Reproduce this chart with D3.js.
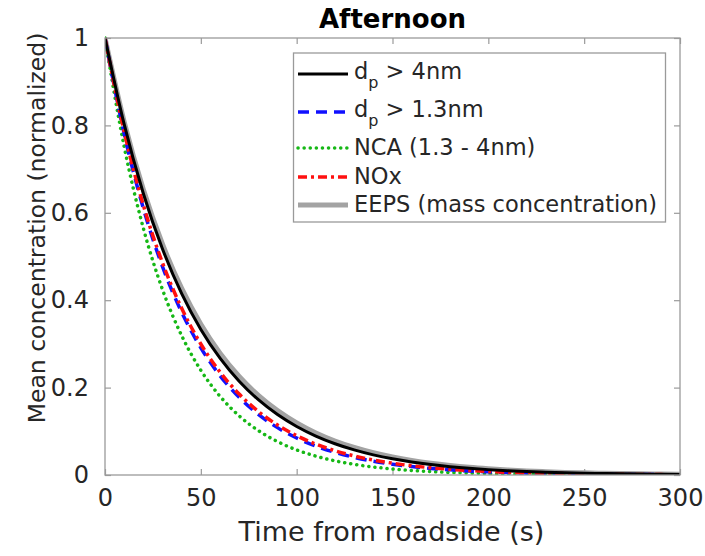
<!DOCTYPE html>
<html>
<head>
<meta charset="utf-8">
<script src="https://cdn.jsdelivr.net/npm/d3@7"></script>
<style>
  html, body { margin: 0; padding: 0; background: #fff; }
  svg { display: block; font-family: "DejaVu Sans", sans-serif; }
</style>
</head>
<body>
<svg id="chart" width="705" height="556"></svg>
<script>
// ---- data ----
const time = [0,10,20,30,40,50,60,70,80,90,100,110,120,130,140,150,160,170,180,190,200,210,220,230,240,250,260,270,280,290,300];
const dp4nm = [1,.8027,.6443,.5172,.4151,.3332,.2675,.2147,.1723,.1383,.1110,.0891,.0715,.0574,.0461,.0370,.0297,.0238,.0191,.0153,.0123,.0099,.0079,.0064,.0051,.0041,.0033,.0026,.0021,.0017,.0014];
const dp13nm = [1,.7812,.6103,.4768,.3724,.2910,.2273,.1776,.1387,.1084,.0847,.0661,.0517,.0404,.0315,.0246,.0192,.0150,.0118,.0092,.0072,.0056,.0044,.0034,.0027,.0021,.0016,.0013,.0010,.0008,.0006];
const nca = [1,.7515,.5647,.4244,.3189,.2397,.1801,.1353,.1017,.0764,.0574,.0432,.0324,.0244,.0183,.0138,.0103,.0078,.0058,.0044,.0033,.0025,.0019,.0014,.0011,.0008,.0006,.0005,.0003,.0003,.0002];
const nox = [1,.7859,.6176,.4854,.3815,.2998,.2356,.1852,.1455,.1144,.0899,.0706,.0555,.0436,.0343,.0270,.0212,.0166,.0131,.0103,.0081,.0063,.0050,.0039,.0031,.0024,.0019,.0015,.0012,.0009,.0007];
const eeps = [1,.8083,.6534,.5281,.4269,.3451,.2789,.2255,.1822,.1473,.1191,.0962,.0778,.0629,.0508,.0411,.0332,.0268,.0217,.0175,.0142,.0115,.0093,.0075,.0060,.0049,.0039,.0032,.0026,.0021,.0017];
const xTicks = [0,50,100,150,200,250,300];
const yTicks = [0,0.2,0.4,0.6,0.8,1];
const yTickLabels = ["0","0.2","0.4","0.6","0.8","1"];
const titleText = "Afternoon";
const xLabel = "Time from roadside (s)";
const yLabel = "Mean concentration (normalized)";

// series: draw order (back to front) and legend order
const series = [
  {key:"eeps", values:eeps, label:"EEPS (mass concentration)", color:"#a3a3a3", width:5, dash:null, order:5},
  {key:"nca", values:nca, label:"NCA (1.3 - 4nm)", color:"#16b816", width:3.5, dash:"0.1,6", cap:"round", order:3},
  {key:"dp13", values:dp13nm, label:"> 1.3nm", sub:true, color:"#1010ff", width:3.5, dash:"11,7", order:2},
  {key:"nox", values:nox, label:"NOx", color:"#ff1010", width:3.5, dash:"9,4,3,4", order:4},
  {key:"dp4", values:dp4nm, label:"> 4nm", sub:true, color:"#000000", width:3, dash:null, order:1}
];

// ---- layout ----
const svg = d3.select("#chart");
const L = 105, R = 680, T = 38, B = 475;
const x = d3.scaleLinear().domain([0,300]).range([L,R]);
const y = d3.scaleLinear().domain([0,1]).range([B,T]);
const axisColor = "#9a9a9a";
const textColor = "#262626";

svg.append("clipPath").attr("id","clip")
  .append("rect").attr("x",L).attr("y",T-3).attr("width",R-L).attr("height",B-T+3);

// axes with inward ticks (box on)
const tickLen = 6;
const gx = svg.append("g").attr("transform",`translate(0,${B})`)
  .call(d3.axisBottom(x).tickValues(xTicks).tickSize(-tickLen).tickPadding(14).tickFormat(d3.format("d")));
const gxt = svg.append("g").attr("transform",`translate(0,${T})`)
  .call(d3.axisTop(x).tickValues(xTicks).tickSize(-tickLen).tickFormat(""));
const gy = svg.append("g").attr("transform",`translate(${L},0)`)
  .call(d3.axisLeft(y).tickValues(yTicks).tickSize(-tickLen).tickPadding(16).tickFormat((d,i)=>yTickLabels[i]));
const gyr = svg.append("g").attr("transform",`translate(${R},0)`)
  .call(d3.axisRight(y).tickValues(yTicks).tickSize(-tickLen).tickFormat(""));
[gx,gxt,gy,gyr].forEach(g=>{
  g.select(".domain").remove();
  g.selectAll(".tick line").attr("stroke",axisColor).attr("stroke-width",1.2);
  g.selectAll(".tick text").attr("fill",textColor).style("font-size","24px").style("font-family","DejaVu Sans");
});

// lines
const line = d3.line().x((d,i)=>x(time[i])).y(d=>y(d)).curve(d3.curveMonotoneX);
const plot = svg.append("g").attr("clip-path","url(#clip)");
series.forEach(s=>{
  plot.append("path").datum(s.values)
    .attr("d",line)
    .attr("fill","none")
    .attr("stroke",s.color)
    .attr("stroke-width",s.width)
    .attr("stroke-dasharray",s.dash)
    .attr("stroke-linecap",s.cap||"butt")
    .attr("stroke-linejoin","round");
});

// box
svg.append("rect").attr("x",L).attr("y",T).attr("width",R-L).attr("height",B-T)
  .attr("fill","none").attr("stroke",axisColor).attr("stroke-width",1.3);

// title & labels
svg.append("text").attr("x",(L+R)/2).attr("y",28).attr("text-anchor","middle")
  .attr("fill","#000").style("font-weight","bold").style("font-size","26px").text(titleText);
svg.append("text").attr("x",(L+R)/2 - 1).attr("y",541).attr("text-anchor","middle")
  .attr("fill",textColor).style("font-size","27px").text(xLabel);
svg.append("text").attr("transform",`translate(45,228) rotate(-90)`).attr("text-anchor","middle")
  .attr("fill",textColor).style("font-size","23.5px").text(yLabel);

// legend
const lg = svg.append("g");
lg.append("rect").attr("x",293.5).attr("y",53).attr("width",372).attr("height",169)
  .attr("fill","#fff").attr("stroke",axisColor).attr("stroke-width",1.3);
const rows = [
  {o:1, ly:74, ty:79}, {o:2, ly:112, ty:117}, {o:3, ly:148, ty:155}, {o:4, ly:177, ty:184}, {o:5, ly:205, ty:212}
];
rows.forEach(r=>{
  const s = series.find(d=>d.order===r.o);
  lg.append("line").attr("x1",298).attr("x2",348).attr("y1",r.ly).attr("y2",r.ly)
    .attr("stroke",s.color).attr("stroke-width",s.width)
    .attr("stroke-dasharray",s.dash).attr("stroke-linecap",s.cap||"butt");
  const t = lg.append("text").attr("x",354).attr("y",r.ty).attr("fill",textColor).style("font-size","22.5px");
  if (s.sub) {
    t.append("tspan").text("d");
    t.append("tspan").attr("dy",9).style("font-size","16px").text("p");
    t.append("tspan").attr("dy",-9).text(" " + s.label);
  } else {
    t.text(s.label);
  }
});
</script>
</body>
</html>
